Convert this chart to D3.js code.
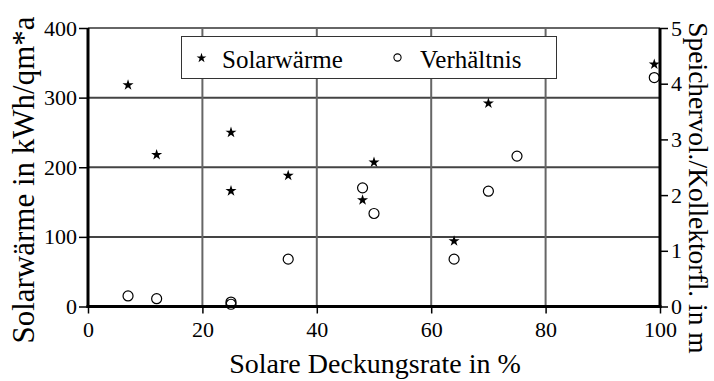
<!DOCTYPE html>
<html>
<head>
<meta charset="utf-8">
<script src="https://cdn.jsdelivr.net/npm/d3@7"></script>
<style>
  html, body { margin: 0; padding: 0; background: #fff; }
  svg { display: block; }
  text { font-family: "Liberation Serif", "DejaVu Serif", serif; fill: #000; }
</style>
</head>
<body>
<svg id="chart" width="714" height="381"></svg>
<script>
// Solare Deckungsrate (%) for each plant
const solarX = [7, 12, 25, 25, 35, 48, 50, 64, 70, 99];
// Solarwärme in kWh/qm*a (left axis)
const solarWaerme = [318, 218, 250, 166, 188, 153, 207, 94, 292, 348];

const ratioX = [7, 12, 25, 25, 35, 48, 50, 64, 70, 75, 99];
// Speichervolumen / Kollektorfläche (right axis)
const verhaeltnis = [0.19, 0.14, 0.08, 0.04, 0.85, 2.13, 1.67, 0.85, 2.07, 2.70, 4.11];

const xTicks = [0, 20, 40, 60, 80, 100];
const yLeftTicks = [0, 100, 200, 300, 400];
const yRightTicks = [0, 1, 2, 3, 4, 5];

const svg = d3.select("#chart");
const plotLeft = 88, plotRight = 660, plotTop = 28, plotBottom = 306.5;

const x = d3.scaleLinear().domain([0, 100]).range([plotLeft, plotRight]);
const yL = d3.scaleLinear().domain([0, 400]).range([plotBottom, plotTop]);
const yR = d3.scaleLinear().domain([0, 5]).range([plotBottom, plotTop]);

// grid
const grid = svg.append("g").attr("stroke-width", 2);
grid.selectAll("line.h").data([100, 200, 300, 400]).join("line")
  .attr("x1", plotLeft).attr("x2", plotRight)
  .attr("y1", d => yL(d)).attr("y2", d => yL(d))
  .attr("stroke", d => d === 400 ? "#666" : "#444");
grid.selectAll("line.v").data([20, 40, 60, 80]).join("line")
  .attr("y1", plotTop).attr("y2", plotBottom)
  .attr("x1", d => x(d)).attr("x2", d => x(d))
  .attr("stroke", "#666");

// axes
const fs = "22px";
const fmt = d3.format("d");
const axL = svg.append("g").attr("transform", `translate(${plotLeft},0)`)
  .call(d3.axisLeft(yL).tickValues(yLeftTicks).tickFormat(fmt).tickSize(9).tickPadding(2));
const axR = svg.append("g").attr("transform", `translate(${plotRight},0)`)
  .call(d3.axisRight(yR).tickValues(yRightTicks).tickFormat(fmt).tickSize(8).tickPadding(3));
const axB = svg.append("g").attr("transform", `translate(0,${plotBottom})`)
  .call(d3.axisBottom(x).tickValues(xTicks).tickFormat(fmt).tickSize(7).tickPadding(8));
[axL, axR, axB].forEach(a => {
  a.select(".domain").remove();
  a.selectAll(".tick line").attr("stroke", "#000").attr("stroke-width", 1.5);
  a.selectAll(".tick text").style("font-size", fs)
    .style("font-family", "'Liberation Serif', serif").attr("fill", "#000");
});

// thick axis frame lines
svg.append("line").attr("x1", plotLeft).attr("x2", plotLeft).attr("y1", plotTop).attr("y2", plotBottom + 1.5)
  .attr("stroke", "#000").attr("stroke-width", 3);
svg.append("line").attr("x1", plotRight).attr("x2", plotRight).attr("y1", plotTop).attr("y2", plotBottom + 1.5)
  .attr("stroke", "#000").attr("stroke-width", 3);
svg.append("line").attr("x1", plotLeft - 1.5).attr("x2", plotRight + 1.5).attr("y1", plotBottom).attr("y2", plotBottom)
  .attr("stroke", "#000").attr("stroke-width", 3);

// legend
const lg = svg.append("g");
lg.append("rect").attr("x", 181.5).attr("y", 36.5).attr("width", 375).attr("height", 42)
  .attr("fill", "#fff").attr("stroke", "#333").attr("stroke-width", 1);
const star = d3.symbol().type(d3.symbolStar);
lg.append("path").attr("d", star.size(30)()).attr("transform", "translate(201.5,58)").attr("fill", "#000");
lg.append("text").attr("x", 222).attr("y", 68).style("font-size", "25px").text("Solarwärme");
lg.append("circle").attr("cx", 397.5).attr("cy", 57.5).attr("r", 3.6)
  .attr("fill", "none").attr("stroke", "#000").attr("stroke-width", 1.1);
lg.append("text").attr("x", 420).attr("y", 68).style("font-size", "25px").text("Verhältnis");

// data marks
svg.append("g").selectAll("path").data(solarX).join("path")
  .attr("d", star.size(38)())
  .attr("transform", (d, i) => `translate(${x(d)},${yL(solarWaerme[i])})`)
  .attr("fill", "#000");
svg.append("g").selectAll("circle").data(ratioX).join("circle")
  .attr("cx", d => x(d)).attr("cy", (d, i) => yR(verhaeltnis[i])).attr("r", 5)
  .attr("fill", "none").attr("stroke", "#000").attr("stroke-width", 1.2);

// axis titles
svg.append("text").attr("x", 375).attr("y", 373).attr("text-anchor", "middle")
  .style("font-size", "28px").text("Solare Deckungsrate in %");
svg.append("text").attr("transform", "translate(34,180) rotate(-90)").attr("text-anchor", "middle")
  .style("font-size", "31px").text("Solarwärme in kWh/qm*a");
svg.append("text").attr("transform", "translate(689,188) rotate(90)").attr("text-anchor", "middle")
  .style("font-size", "27.5px").text("Speichervol./Kollektorfl. in m");
</script>
</body>
</html>
